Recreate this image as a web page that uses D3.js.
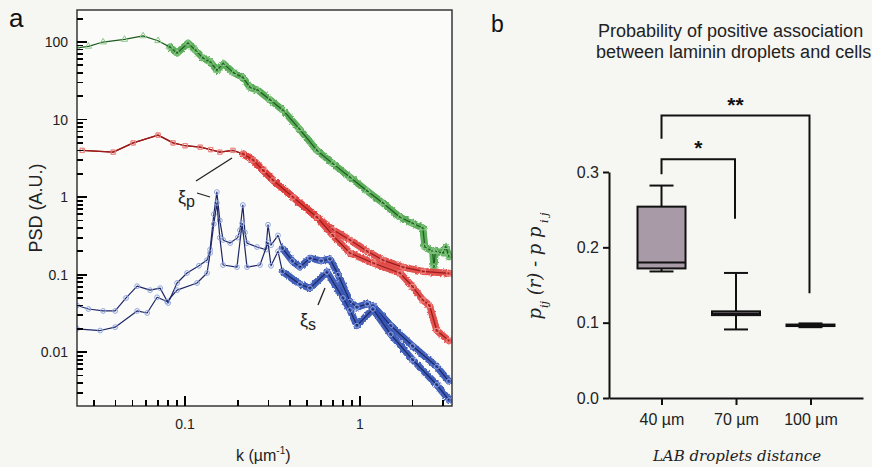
<!DOCTYPE html>
<html>
<head>
<meta charset="utf-8">
<script src="https://cdn.jsdelivr.net/npm/d3@7"></script>
<style>
  body { margin: 0; background: #f6f6f3; }
  svg { display: block; font-family: "Liberation Sans", Arial, sans-serif; }
</style>
</head>
<body>
<svg id="fig" width="872" height="467"></svg>
<script>
// ---- panel a : PSD vs k as [k (µm^-1), PSD (A.U.)] ----
const green = [
  [0.0241, 84], [0.028, 88], [0.034, 100], [0.045, 108], [0.0575, 120], [0.07, 104],
  [0.082, 86], [0.09, 72], [0.104, 97], [0.115, 78], [0.1267, 62], [0.14, 55], [0.152, 43],
  [0.165, 53], [0.19, 40], [0.214, 35], [0.235, 26], [0.26, 24], [0.306, 18], [0.363, 13.2],
  [0.45, 7.6], [0.568, 4.0], [0.7, 2.7], [0.877, 1.8], [1.1, 1.2], [1.353, 0.84], [1.693, 0.55],
  [2.0, 0.46], [2.29, 0.40], [2.35, 0.227], [2.6, 0.2], [2.65, 0.125], [2.7, 0.2], [3.0, 0.19],
  [3.1, 0.23], [3.23, 0.17]
];
const redUpper = [
  [0.0258, 4.0], [0.0388, 3.8], [0.0505, 5.0], [0.0701, 6.3], [0.0854, 5.0], [0.1, 4.6],
  [0.122, 4.4], [0.14, 4.1], [0.158, 3.8], [0.188, 4.0], [0.215, 3.6], [0.245, 3.0],
  [0.28, 2.2], [0.318, 1.66], [0.414, 1.0], [0.568, 0.55], [0.7, 0.38], [0.877, 0.28],
  [1.1, 0.2], [1.353, 0.154], [1.762, 0.125], [2.3, 0.11], [3.23, 0.104]
];
const redLower = [
  [0.0258, 4.0], [0.0388, 3.8], [0.0505, 5.0], [0.0701, 6.3], [0.0854, 5.0], [0.1, 4.6],
  [0.122, 4.4], [0.14, 4.1], [0.158, 3.8], [0.188, 4.0], [0.215, 3.6], [0.245, 3.0],
  [0.28, 2.2], [0.318, 1.66], [0.414, 1.0], [0.568, 0.55], [0.7, 0.32], [0.877, 0.19],
  [1.2, 0.14], [1.693, 0.105], [2.0, 0.07], [2.29, 0.047], [2.5, 0.04], [2.75, 0.019], [3.23, 0.014]
];
const blueUpper = [
  [0.0241, 0.040], [0.028, 0.036], [0.034, 0.034], [0.0398, 0.034], [0.046, 0.05], [0.0532, 0.071],
  [0.0631, 0.063], [0.072, 0.067], [0.08, 0.043], [0.09, 0.078], [0.1026, 0.105], [0.12, 0.13],
  [0.1336, 0.154], [0.139, 0.21], [0.146, 0.6], [0.152, 1.16], [0.158, 0.5], [0.165, 0.28],
  [0.181, 0.255], [0.2, 0.3], [0.206, 0.375], [0.214, 0.79], [0.22, 0.35], [0.226, 0.255],
  [0.258, 0.227], [0.29, 0.21], [0.298, 0.44], [0.31, 0.24], [0.34, 0.32], [0.36, 0.22],
  [0.41, 0.15], [0.454, 0.125], [0.518, 0.163], [0.6, 0.15], [0.674, 0.16], [0.75, 0.10],
  [0.877, 0.045], [0.961, 0.038], [1.1, 0.042], [1.186, 0.040], [1.5, 0.022], [2.0, 0.012],
  [2.75, 0.0065], [3.23, 0.0042]
];
const blueLower = [
  [0.0241, 0.020], [0.0327, 0.019], [0.0398, 0.021], [0.0532, 0.034], [0.0607, 0.032],
  [0.0692, 0.051], [0.0789, 0.045], [0.09, 0.063], [0.117, 0.078], [0.1336, 0.105],
  [0.139, 0.19], [0.146, 0.45], [0.152, 0.84], [0.158, 0.3], [0.165, 0.133], [0.198, 0.125],
  [0.212, 0.46], [0.226, 0.125], [0.268, 0.133], [0.298, 0.26], [0.31, 0.13], [0.34, 0.20],
  [0.36, 0.11], [0.454, 0.075], [0.518, 0.067], [0.648, 0.108], [0.8, 0.05], [0.877, 0.035],
  [0.961, 0.022], [1.186, 0.036], [1.5, 0.017], [2.0, 0.008], [2.75, 0.0038], [3.23, 0.0024]
];
const psdMajor = [0.01, 0.1, 1, 10, 100];
const kMajor = [0.1, 1];

// ---- panel b : box plots ----
const distances = ['40 µm', '70 µm', '100 µm'];
const boxMin = [0.168, 0.091, 0.094];
const boxQ1 = [0.172, 0.110, 0.0955];
const boxMedian = [0.180, 0.112, 0.096];
const boxQ3 = [0.254, 0.115, 0.0975];
const boxMax = [0.282, 0.166, 0.099];
const probTicks = [0.0, 0.1, 0.2, 0.3];

const svg = d3.select('#fig');
const defs = svg.append('defs');

// ================= panel a =================
const ax = d3.scaleLog().domain([0.0241, 3.36]).range([77, 452]);
const ay = d3.scaleLog().domain([0.00202, 259]).range([406, 10]);

svg.append('rect').attr('x', 77).attr('y', 10).attr('width', 375).attr('height', 396)
  .attr('fill', '#fbfbf9');

defs.append('clipPath').attr('id', 'clipA')
  .append('rect').attr('x', 77).attr('y', 10).attr('width', 375).attr('height', 396);

// slight roughness for the crowded marker bands
const rough = defs.append('filter').attr('id', 'rough')
  .attr('x', '-5%').attr('y', '-5%').attr('width', '110%').attr('height', '110%');
rough.append('feTurbulence').attr('type', 'fractalNoise').attr('baseFrequency', 0.45)
  .attr('numOctaves', 2).attr('seed', 3).attr('result', 'noise');
rough.append('feDisplacementMap').attr('in', 'SourceGraphic').attr('in2', 'noise')
  .attr('scale', 3).attr('xChannelSelector', 'R').attr('yChannelSelector', 'G');

// curves
const line = d3.line().x(d => ax(d[0])).y(d => ay(d[1]));
const plotA = svg.append('g').attr('clip-path', 'url(#clipA)');

const series = [
  { data: green, band: '#4ea64c', stroke: '#1e5c20', marker: '#8cc98a', dense: 0.08, shape: d3.symbolTriangle },
  { data: redUpper, band: '#e0413d', stroke: '#9c1a1a', marker: '#ee8a86', dense: 0.2, shape: d3.symbolSquare },
  { data: redLower, band: '#e0413d', stroke: '#9c1a1a', marker: '#ee8a86', dense: 0.2, shape: d3.symbolSquare },
  { data: blueUpper, band: '#2f4fb3', stroke: '#1d2766', marker: '#8fa4df', dense: 0.36, shape: d3.symbolCircle },
  { data: blueLower, band: '#2f4fb3', stroke: '#1d2766', marker: '#8fa4df', dense: 0.36, shape: d3.symbolCircle }
];

series.forEach(s => {
  // dense marker band where the original points crowd together
  plotA.append('path')
    .attr('d', line(s.data.filter(d => d[0] >= s.dense)))
    .attr('fill', 'none')
    .attr('stroke', s.band)
    .attr('stroke-width', 7)
    .attr('stroke-linejoin', 'round')
    .attr('stroke-linecap', 'round')
    .attr('filter', 'url(#rough)')
    .attr('opacity', 0.9);
  plotA.append('path')
    .attr('d', line(s.data))
    .attr('fill', 'none')
    .attr('stroke', s.stroke)
    .attr('stroke-width', 1.2)
    .attr('stroke-linejoin', 'round');
  plotA.append('g').selectAll('path')
    .data(s.data)
    .join('path')
    .attr('d', d3.symbol(s.shape).size(18))
    .attr('transform', d => `translate(${ax(d[0])},${ay(d[1])})`)
    .attr('fill', 'none')
    .attr('stroke', s.marker)
    .attr('stroke-width', 1);
});

// frame
const axisColor = '#2a2a2a';
svg.append('rect').attr('x', 77).attr('y', 10).attr('width', 375).attr('height', 396)
  .attr('fill', 'none').attr('stroke', axisColor).attr('stroke-width', 1.4);

// inward log ticks, built from the decades
const kMinor = [];
[0.01, 0.1, 1].forEach(d => { for (let i = 2; i <= 9; i++) kMinor.push(d * i); });
const psdMinor = [];
[0.001, 0.01, 0.1, 1, 10, 100].forEach(d => { for (let i = 2; i <= 9; i++) psdMinor.push(d * i); });

const tickG = svg.append('g').attr('stroke', '#000').attr('stroke-width', 1.8)
  .attr('shape-rendering', 'crispEdges');
kMinor.filter(k => k > 0.0241 && k < 3.36).forEach(k => {
  tickG.append('line').attr('x1', ax(k)).attr('x2', ax(k)).attr('y1', 406).attr('y2', 400);
});
kMajor.forEach(k => {
  tickG.append('line').attr('x1', ax(k)).attr('x2', ax(k)).attr('y1', 406).attr('y2', 396);
});
psdMinor.filter(v => v > 0.00202 && v < 259).forEach(v => {
  tickG.append('line').attr('x1', 77).attr('x2', 83).attr('y1', ay(v)).attr('y2', ay(v));
});
psdMajor.forEach(v => {
  tickG.append('line').attr('x1', 77).attr('x2', 87).attr('y1', ay(v)).attr('y2', ay(v));
});

svg.append('g').selectAll('text').data(kMajor).join('text')
  .attr('x', d => ax(d)).attr('y', 429).attr('text-anchor', 'middle')
  .attr('font-size', 14).attr('fill', '#222').text(d => d === 1 ? '1' : '0.1');
svg.append('g').selectAll('text').data(psdMajor).join('text')
  .attr('x', 68).attr('y', d => ay(d) + 5).attr('text-anchor', 'end')
  .attr('font-size', 14).attr('fill', '#222').text(d => String(d));

// annotations
svg.append('line').attr('x1', 196).attr('y1', 181).attr('x2', 232).attr('y2', 158)
  .attr('stroke', '#222').attr('stroke-width', 1.3);
svg.append('line').attr('x1', 197).attr('y1', 193).attr('x2', 210).attr('y2', 197)
  .attr('stroke', '#222').attr('stroke-width', 1.3);
const xiP = svg.append('text').attr('x', 178).attr('y', 203).attr('font-size', 18).attr('fill', '#222');
xiP.append('tspan').text('ξ');
xiP.append('tspan').attr('dy', 4).attr('font-size', 16).text('p');
svg.append('line').attr('x1', 318).attr('y1', 305).attr('x2', 325).attr('y2', 288)
  .attr('stroke', '#222').attr('stroke-width', 1.3);
const xiS = svg.append('text').attr('x', 300).attr('y', 326).attr('font-size', 18).attr('fill', '#222');
xiS.append('tspan').text('ξ');
xiS.append('tspan').attr('dy', 4).attr('font-size', 16).text('s');

// axis titles
svg.append('text').attr('transform', 'translate(42,208) rotate(-90)')
  .attr('text-anchor', 'middle').attr('font-size', 18).attr('fill', '#222').text('PSD (A.U.)');
const kLab = svg.append('text').attr('x', 236).attr('y', 461).attr('font-size', 16).attr('fill', '#222');
kLab.append('tspan').text('k (µm');
kLab.append('tspan').attr('dy', -7).attr('font-size', 10).text('-1');
kLab.append('tspan').attr('dy', 7).text(')');

svg.append('text').attr('x', 9).attr('y', 27).attr('font-size', 26).attr('fill', '#111').text('a');

// ================= panel b =================
const bx = d3.scalePoint().domain(distances).range([609, 863]).padding(0.705);
const by = d3.scaleLinear().domain([0, 0.3]).range([398, 172]);

svg.append('text').attr('x', 491).attr('y', 32).attr('font-size', 23).attr('fill', '#111').text('b');
svg.append('text').attr('x', 598).attr('y', 37).attr('font-size', 18).attr('fill', '#222')
  .text('Probability of positive association');
svg.append('text').attr('x', 596).attr('y', 58).attr('font-size', 18).attr('fill', '#222')
  .text('between laminin droplets and cells');

svg.append('g').attr('transform', 'translate(609,0)')
  .call(d3.axisLeft(by).tickValues(probTicks).tickSize(6).tickSizeOuter(0).tickPadding(4).tickFormat(d3.format('.1f')))
  .call(g => g.selectAll('text').attr('font-size', 16).attr('fill', '#222'))
  .call(g => g.selectAll('line,path').attr('stroke', '#111').attr('stroke-width', 2));
svg.append('g').attr('transform', 'translate(0,398)')
  .call(d3.axisBottom(bx).tickSize(7).tickSizeOuter(0).tickPadding(9))
  .call(g => g.selectAll('text').attr('font-size', 16).attr('fill', '#222'))
  .call(g => g.selectAll('line,path').attr('stroke', '#111').attr('stroke-width', 2));

const boxW = 48, capW = 24;
const boxes = svg.append('g').attr('stroke', '#111').attr('stroke-width', 2);
distances.forEach((c, i) => {
  const cx = bx(c);
  boxes.append('line').attr('x1', cx).attr('x2', cx).attr('y1', by(boxMax[i])).attr('y2', by(boxMin[i]));
  [boxMax[i], boxMin[i]].forEach(v => {
    boxes.append('line').attr('x1', cx - capW / 2).attr('x2', cx + capW / 2).attr('y1', by(v)).attr('y2', by(v));
  });
  boxes.append('rect')
    .attr('x', cx - boxW / 2).attr('width', boxW)
    .attr('y', by(boxQ3[i])).attr('height', by(boxQ1[i]) - by(boxQ3[i]))
    .attr('fill', '#a99aa8');
  boxes.append('line').attr('x1', cx - boxW / 2).attr('x2', cx + boxW / 2)
    .attr('y1', by(boxMedian[i])).attr('y2', by(boxMedian[i]));
});

// significance brackets
const brackets = [
  { from: '40 µm', to: '70 µm', top: 0.317, left: 0.297, right: 0.238, label: '*' },
  { from: '40 µm', to: '100 µm', top: 0.375, left: 0.344, right: 0.139, label: '**' }
];
brackets.forEach(b => {
  const x1 = bx(b.from), x2 = bx(b.to) - 1;
  svg.append('path')
    .attr('d', `M${x1},${by(b.left)}V${by(b.top)}H${x2}V${by(b.right)}`)
    .attr('fill', 'none').attr('stroke', '#111').attr('stroke-width', 2);
  svg.append('text').attr('x', (x1 + x2) / 2).attr('y', by(b.top) - 4)
    .attr('text-anchor', 'middle').attr('font-size', 21).attr('font-weight', 'bold')
    .attr('fill', '#111').text(b.label);
});

// axis titles (italic serif)
const yLab = svg.append('text').attr('transform', 'translate(541,266) rotate(-90)')
  .attr('text-anchor', 'middle').attr('font-family', '"DejaVu Serif", serif')
  .attr('font-style', 'italic').attr('font-size', 18).attr('fill', '#222');
yLab.append('tspan').text('p');
yLab.append('tspan').attr('dy', 7).attr('font-size', 11).text('ij');
yLab.append('tspan').attr('dy', -7).text(' (r) - p p');
yLab.append('tspan').attr('dy', 7).attr('font-size', 11).text(' i  j');

svg.append('text').attr('x', 737).attr('y', 461).attr('text-anchor', 'middle')
  .attr('font-family', '"DejaVu Serif", serif').attr('font-style', 'italic')
  .attr('font-size', 15).attr('fill', '#222').text('LAB droplets distance');
</script>
</body>
</html>
